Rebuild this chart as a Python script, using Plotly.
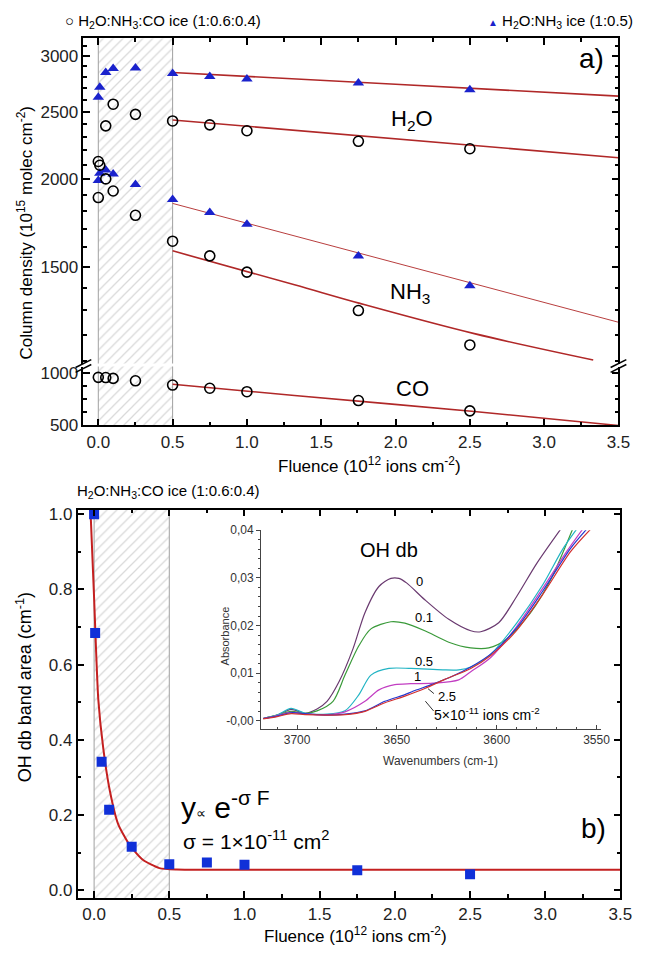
import plotly.graph_objects as go

W, H = 656, 958

# ---------------- Panel a data (10^15 molec cm^-2) ----------------
fluence_circ_h2o = [0, 0.01, 0.05, 0.1, 0.25, 0.5, 0.75, 1.0, 1.75, 2.5]
circ_h2o = [2121, 2095, 2385, 2561, 2477, 2424, 2393, 2347, 2267, 2212]
fluence_circ_nh3 = [0, 0.05, 0.1, 0.25, 0.5, 0.75, 1.0, 1.75, 2.5]
circ_nh3 = [1884, 2003, 1925, 1777, 1632, 1555, 1474, 1299, 1160]
fluence_circ_co = [0, 0.05, 0.1, 0.25, 0.5, 0.75, 1.0, 1.75, 2.5]
circ_co = [962, 960, 952, 929, 888, 857, 824, 739, 640]
fluence_tri = [0, 0.01, 0.05, 0.1, 0.25, 0.5, 0.75, 1.0, 1.75, 2.5]
tri_h2o = [2621, 2707, 2843, 2880, 2886, 2834, 2806, 2783, 2746, 2685]
tri_nh3 = [1992, 2040, 2062, 2036, 1967, 1872, 1793, 1726, 1555, 1409]

# fit lines
fit_tri_h2o_x = [0.5, 2.0, 3.5]
fit_tri_h2o_y = [2843, 2735, 2630]
fit_circ_h2o_x = [0.5, 3.5]
fit_circ_h2o_y = [2432, 2148]
fit_tri_nh3_x = [0.5, 3.5]
fit_tri_nh3_y = [1848, 1250]
fit_circ_nh3_x = [0.5, 1.32, 1.76, 2.53, 3.33]
fit_circ_nh3_y = [1581, 1414, 1330, 1204, 1104]
fit_co_x = [0.5, 1.32, 2.53, 3.5]
fit_co_y = [895, 787, 634, 500]

# ---------------- Panel b data ----------------
fluence_b = [0, 0.007, 0.05, 0.1, 0.25, 0.5, 0.75, 1.0, 1.75, 2.5]
oh_area = [1.0, 0.684, 0.342, 0.214, 0.116, 0.0695, 0.074, 0.068, 0.053, 0.0425]
fit_b_x = [-0.026, 0.0, 0.028, 0.061, 0.105, 0.16, 0.237, 0.324, 0.434, 0.55, 1.0, 3.5]
fit_b_y = [1.03, 0.777, 0.507, 0.377, 0.264, 0.176, 0.120, 0.081, 0.059, 0.055, 0.0548, 0.0548]

# ---------------- Inset spectra ----------------
wn_0 = [3717, 3710, 3703, 3696, 3690, 3685, 3679, 3672, 3666, 3659, 3653, 3649, 3645, 3636, 3624, 3613, 3608, 3599, 3590, 3580, 3568]
ab_0 = [0.0005, 0.0012, 0.0024, 0.0016, 0.0025, 0.0041, 0.0082, 0.0151, 0.0227, 0.0282, 0.0299, 0.0299, 0.0289, 0.0254, 0.0213, 0.0189, 0.0187, 0.0206, 0.0261, 0.0330, 0.0402]
wn_01 = [3717, 3710, 3703, 3696, 3690, 3682, 3676, 3669, 3663, 3653, 3646, 3636, 3624, 3613, 3604, 3595, 3583, 3573, 3562]
ab_01 = [0.0005, 0.0012, 0.0020, 0.0016, 0.0021, 0.0041, 0.0096, 0.0158, 0.0193, 0.0208, 0.0205, 0.0189, 0.0165, 0.0153, 0.0153, 0.0172, 0.0227, 0.0296, 0.0402]
wn_05 = [3717, 3710, 3703, 3696, 3685, 3676, 3669, 3663, 3654, 3643, 3627, 3619, 3613, 3603, 3590, 3577, 3567, 3560]
ab_05 = [0.0005, 0.0012, 0.0026, 0.0016, 0.0014, 0.0021, 0.0055, 0.0096, 0.0110, 0.0110, 0.0107, 0.0107, 0.0113, 0.0140, 0.0205, 0.0285, 0.0360, 0.0402]
wn_1 = [3717, 3710, 3703, 3696, 3685, 3676, 3666, 3659, 3651, 3643, 3632, 3619, 3613, 3603, 3590, 3577, 3565, 3557]
ab_1 = [0.0005, 0.0011, 0.0018, 0.0015, 0.0013, 0.0019, 0.0041, 0.0065, 0.0076, 0.0078, 0.0079, 0.0086, 0.0103, 0.0133, 0.0198, 0.0278, 0.0355, 0.0402]
wn_25 = [3717, 3710, 3703, 3696, 3685, 3676, 3666, 3656, 3646, 3642, 3632, 3622, 3613, 3603, 3590, 3577, 3563, 3555]
ab_25 = [0.0005, 0.0010, 0.0017, 0.0015, 0.0012, 0.0014, 0.0021, 0.0041, 0.0055, 0.0062, 0.0077, 0.0094, 0.0113, 0.0140, 0.0195, 0.0272, 0.0362, 0.0402]
wn_5 = [3717, 3710, 3703, 3696, 3685, 3676, 3666, 3656, 3646, 3636, 3626, 3613, 3603, 3590, 3577, 3563, 3553]
ab_5 = [0.0004, 0.0009, 0.0015, 0.0013, 0.0012, 0.0013, 0.0020, 0.0038, 0.0052, 0.0068, 0.0087, 0.0110, 0.0137, 0.0190, 0.0265, 0.0355, 0.0402]

inset_series = [(wn_0, ab_0, '#6a3a70'), (wn_01, ab_01, '#3a9a3a'), (wn_05, ab_05, '#22b4c4'),
                (wn_1, ab_1, '#c23ec2'), (wn_25, ab_25, '#2438d0'), (wn_5, ab_5, '#d23030')]

# tick labels
ticks_a_up = [1500, 2000, 2500, 3000]
ticks_a_low = [500, 1000]
ticks_x = [0, 0.5, 1.0, 1.5, 2.0, 2.5, 3.0, 3.5]
ticks_x_text = ['0.0', '0.5', '1.0', '1.5', '2.0', '2.5', '3.0', '3.5']
ticks_b = [0, 0.2, 0.4, 0.6, 0.8, 1.0]
ticks_b_text = ['0.0', '0.2', '0.4', '0.6', '0.8', '1.0']
ticks_inset_y = [0, 0.01, 0.02, 0.03, 0.04]
ticks_inset_y_text = ['-0,00', '0,01', '0,02', '0,03', '0,04']
ticks_inset_x = [3700, 3650, 3600, 3550]


def PX(x):
    return x / W


def PY(y):
    return 1 - y / H


FIT = '#b02828'
BLUE = '#1a22cc'
FONT = 'Liberation Sans, Arial, sans-serif'

fig = go.Figure()

hatch = dict(shape='/', fgcolor='#b4b4b4', bgcolor='rgba(0,0,0,0)', size=7, solidity=0.18)
hatch_kw = dict(mode='lines', fill='toself', fillcolor='rgba(255,255,255,0)', fillpattern=hatch,
                line=dict(color='#a0a0a0', width=1), hoverinfo='skip', showlegend=False)
fig.add_trace(go.Scatter(x=[0, 0.5, 0.5, 0, 0], y=[900, 900, 4000, 4000, 900], xaxis='x', yaxis='y', **hatch_kw))
fig.add_trace(go.Scatter(x=[0, 0.5, 0.5, 0, 0], y=[400, 400, 1200, 1200, 400], xaxis='x', yaxis='y2', **hatch_kw))
fig.add_trace(go.Scatter(x=[0, 0.5, 0.5, 0, 0], y=[-0.1, -0.1, 1.2, 1.2, -0.1], xaxis='x3', yaxis='y3', **hatch_kw))

# dummy trace for top axis of panel a
fig.add_trace(go.Scatter(x=[None], y=[None], xaxis='x2', yaxis='y', showlegend=False))

# fit lines, panel a
for fx, fy, ax, w in [(fit_tri_h2o_x, fit_tri_h2o_y, 'y', 1.6), (fit_circ_h2o_x, fit_circ_h2o_y, 'y', 1.6),
                      (fit_tri_nh3_x, fit_tri_nh3_y, 'y', 0.9), (fit_circ_nh3_x, fit_circ_nh3_y, 'y', 1.6),
                      (fit_co_x, fit_co_y, 'y2', 1.6)]:
    fig.add_trace(go.Scatter(x=fx, y=fy, xaxis='x', yaxis=ax, mode='lines',
                             line=dict(color=FIT, width=w, shape='spline'), showlegend=False))

circ_kw = dict(mode='markers', marker=dict(symbol='circle-open', size=10, color='black', line=dict(width=1.6)),
               showlegend=False)
tri_kw = dict(mode='markers', marker=dict(symbol='triangle-up', size=10, color=BLUE), showlegend=False)
fig.add_trace(go.Scatter(x=fluence_tri, y=tri_h2o, xaxis='x', yaxis='y', **tri_kw))
fig.add_trace(go.Scatter(x=fluence_tri, y=tri_nh3, xaxis='x', yaxis='y', **tri_kw))
fig.add_trace(go.Scatter(x=fluence_circ_h2o, y=circ_h2o, xaxis='x', yaxis='y', **circ_kw))
fig.add_trace(go.Scatter(x=fluence_circ_nh3, y=circ_nh3, xaxis='x', yaxis='y', **circ_kw))
fig.add_trace(go.Scatter(x=fluence_circ_co, y=circ_co, xaxis='x', yaxis='y2', **circ_kw))

# panel b
fig.add_trace(go.Scatter(x=fit_b_x, y=fit_b_y, xaxis='x3', yaxis='y3', mode='lines',
                         line=dict(color='#c42020', width=2, shape='spline', smoothing=0.6), showlegend=False))
fig.add_trace(go.Scatter(x=fluence_b, y=oh_area, xaxis='x3', yaxis='y3', mode='markers',
                         marker=dict(symbol='square', size=10, color='#1030d8'), showlegend=False))

# inset
for wn, ab, col in inset_series:
    fig.add_trace(go.Scatter(x=wn, y=ab, xaxis='x4', yaxis='y4', mode='lines',
                             line=dict(color=col, width=1.2, shape='spline', smoothing=0.8), showlegend=False))

ax_common = dict(showline=True, linecolor='black', linewidth=1.5, ticks='inside', ticklen=7, tickwidth=1.5,
                 tickcolor='black', showgrid=False, zeroline=False,
                 tickfont=dict(size=17, color='#222', family=FONT))

fig.update_layout(
    width=W, height=H,
    margin=dict(l=0, r=0, t=0, b=0),
    paper_bgcolor='white', plot_bgcolor='white',
    font=dict(family=FONT, color='black'),
    showlegend=False,
    xaxis=dict(domain=[PX(85), PX(630)], range=[-0.1, 3.5], anchor='y2', tickmode='array',
               tickvals=ticks_x, ticktext=ticks_x_text,
               minor=dict(ticks='inside', ticklen=4, tickcolor='black', tickvals=[0.25, 0.75, 1.25, 1.75, 2.25, 2.75, 3.25]),
               **ax_common),
    xaxis2=dict(overlaying='x', anchor='y', side='top', range=[-0.1, 3.5], tickmode='array', tickvals=ticks_x,
                showticklabels=False,
                minor=dict(ticks='inside', ticklen=4, tickcolor='black', tickvals=[0.25, 0.75, 1.25, 1.75, 2.25, 2.75, 3.25]),
                **ax_common),
    yaxis=dict(domain=[PY(363), PY(32)], type='log', range=[3.0379, 3.5024], anchor='x', mirror='ticks',
               tickmode='array', tickvals=ticks_a_up, ticktext=[str(v) for v in ticks_a_up],
               minor=dict(ticks='inside', ticklen=4, tickcolor='black',
                          tickvals=[1100, 1200, 1300, 1400, 1600, 1700, 1800, 1900, 2100, 2200, 2300, 2400,
                                    2600, 2700, 2800, 2900, 3100]),
               **ax_common),
    yaxis2=dict(domain=[PY(426), PY(366)], range=[500, 1066], anchor='x', mirror='ticks',
                tickmode='array', tickvals=ticks_a_low, ticktext=[str(v) for v in ticks_a_low],
                minor=dict(ticks='inside', ticklen=4, tickcolor='black', tickvals=[625, 750, 875]),
                **ax_common),
    xaxis3=dict(domain=[PX(79), PX(632)], range=[-0.11, 3.5], anchor='y3', mirror='ticks', tickmode='array',
                tickvals=ticks_x, ticktext=ticks_x_text,
                minor=dict(ticks='inside', ticklen=4, tickcolor='black', tickvals=[0.25, 0.75, 1.25, 1.75, 2.25, 2.75, 3.25]),
                **ax_common),
    yaxis3=dict(domain=[PY(907.3), PY(511.7)], range=[-0.021, 1.012], anchor='x3', mirror='ticks', tickmode='array',
                tickvals=ticks_b, ticktext=ticks_b_text,
                minor=dict(ticks='inside', ticklen=4, tickcolor='black', tickvals=[0.1, 0.3, 0.5, 0.7, 0.9]),
                **ax_common),
    xaxis4=dict(domain=[PX(266), PX(611.7)], range=[3718, 3548], anchor='y4', showline=True, linecolor='#444',
                linewidth=1, ticks='inside', ticklen=4, tickcolor='#444', showgrid=False, zeroline=False,
                tickmode='array', tickvals=ticks_inset_x,
                minor=dict(ticks='inside', ticklen=2, tickcolor='#444', dtick=10, tick0=3550),
                tickfont=dict(size=12, color='#333', family=FONT)),
    yaxis4=dict(domain=[PY(735), PY(532.7)], range=[-0.0017, 0.04], anchor='x4', showline=True, linecolor='#444',
                linewidth=1, ticks='outside', ticklen=4, tickcolor='#444', showgrid=False, zeroline=False,
                tickmode='array', tickvals=ticks_inset_y, ticktext=ticks_inset_y_text,
                minor=dict(ticks='outside', ticklen=2, tickcolor='#444', dtick=0.002, tick0=0),
                tickfont=dict(size=12, color='#333', family=FONT)),
)


def ann(text, x, y, size, xanchor='center', yanchor='middle', angle=0, color='black'):
    fig.add_annotation(text=text, x=PX(x), y=PY(y), xref='paper', yref='paper', showarrow=False,
                       xanchor=xanchor, yanchor=yanchor, textangle=angle,
                       font=dict(size=size, color=color, family=FONT))


ann('○ H<sub>2</sub>O:NH<sub>3</sub>:CO ice (1:0.6:0.4)', 64, 15, 15, xanchor='left')
ann("<span style='color:#1a22cc;font-size:10px'>▲</span> H<sub>2</sub>O:NH<sub>3</sub> ice (1:0.5)", 647, 15, 15,
    xanchor='right')
ann('a)', 603, 52, 28)
ann('H<sub>2</sub>O', 420, 115, 22)
ann('NH<sub>3</sub>', 418, 291, 22)
ann('CO', 420, 388, 22)
ann('Fluence (10<sup>12</sup> ions cm<sup>-2</sup>)', 376, 466, 17)
ann('Column density (10<sup>15</sup> molec cm<sup>-2</sup>)', 25, 230, 17, angle=-90)

ann('H<sub>2</sub>O:NH<sub>3</sub>:CO ice (1:0.6:0.4)', 76, 493, 15, xanchor='left')
ann('b)', 605, 836, 28)
ann("y<span style='font-size:14px'>∝</span> e<sup>-σ F</sup>", 182, 812, 30, xanchor='left')
ann('σ = 1×10<sup>-11</sup> cm<sup>2</sup>', 184, 848, 21, xanchor='left')
ann('Fluence (10<sup>12</sup> ions cm<sup>-2</sup>)', 362, 945, 17)
ann('OH db band area (cm<sup>-1</sup>)', 25, 693, 18, angle=-90)

ann('OH db', 396, 553, 20)
ann('Absorbance', 229, 640, 11, angle=-90, color='#333')
ann('Wavenumbers (cm-1)', 449, 768, 12, color='#333')
ann('0', 427, 585, 13)
ann('0.1', 432, 622, 13)
ann('0.5', 432, 666, 13)
ann('1', 425, 682, 13)
ann('2.5', 455, 702, 13)
ann('5×10<sup>-11</sup> ions cm<sup>-2</sup>', 440, 720, 14, xanchor='left')

shapes = []
for (x0, y0, x1, y1) in [(433.3, 706.7, 441.7, 716.7), (436, 694, 442, 699)]:
    shapes.append(dict(type='line', xref='paper', yref='paper', x0=PX(x0), y0=PY(y0), x1=PX(x1), y1=PY(y1),
                       line=dict(color='#333', width=1)))
# axis break marks
for xc in (85, 630):
    for dy in (0, 5):
        shapes.append(dict(type='line', xref='paper', yref='paper', x0=PX(xc - 8), y0=PY(367 + dy),
                           x1=PX(xc + 8), y1=PY(359 + dy), line=dict(color='black', width=1.5)))
fig.update_layout(shapes=shapes)

fig.write_html('out.html')
